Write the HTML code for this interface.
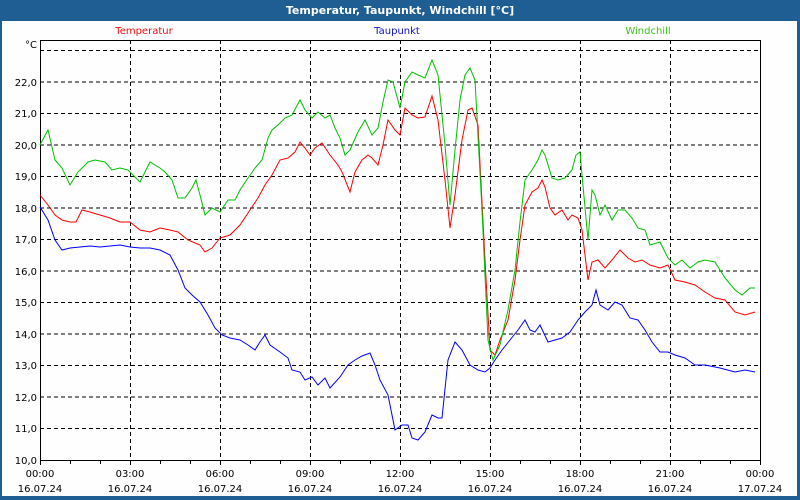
<!DOCTYPE html>
<html><head><meta charset="utf-8"><style>
html,body{margin:0;padding:0;background:#fff}
svg{display:block;font-family:"DejaVu Sans","Liberation Sans",sans-serif}
</style></head><body>
<svg width="800" height="500" viewBox="0 0 800 500" xmlns="http://www.w3.org/2000/svg">
<rect x="0" y="0" width="800" height="500" fill="#1e5e92"/>
<rect x="2" y="21" width="795" height="475" fill="#fdfefd"/>
<text x="400" y="14" fill="#fff" font-size="11" font-weight="bold" text-anchor="middle">Temperatur, Taupunkt, Windchill [°C]</text>
<text x="144" y="34" fill="#f01010" font-size="10" text-anchor="middle">Temperatur</text>
<text x="397" y="34" fill="#1010d0" font-size="10" text-anchor="middle">Taupunkt</text>
<text x="648" y="34" fill="#40c020" font-size="10" text-anchor="middle">Windchill</text>
<g stroke="#000" stroke-width="1" stroke-dasharray="4,3" fill="none">
<path d="M40 50.5H760M40 82H760M40 113.5H760M40 145H760M40 176.5H760M40 208H760M40 239.5H760M40 271H760M40 302.5H760M40 334H760M40 365.5H760M40 397H760M40 428.5H760"/>
<path d="M130.5 40V460M220.5 40V460M310.5 40V460M400.5 40V460M490.5 40V460M580.5 40V460M670.5 40V460"/>
</g>
<rect x="40.5" y="40.5" width="720" height="420" fill="none" stroke="#000"/>
<g stroke="#000"><path d="M40.5 460v5M70.5 460v4M100.5 460v4M130.5 460v5M160.5 460v4M190.5 460v4M220.5 460v5M250.5 460v4M280.5 460v4M310.5 460v5M340.5 460v4M370.5 460v4M400.5 460v5M430.5 460v4M460.5 460v4M490.5 460v5M520.5 460v4M550.5 460v4M580.5 460v5M610.5 460v4M640.5 460v4M670.5 460v5M700.5 460v4M730.5 460v4M760.5 460v5"/></g>
<g font-size="10" fill="#000" text-anchor="end">
<text x="37" y="48">°C</text>
<text x="37" y="86">22,0</text><text x="37" y="117">21,0</text><text x="37" y="149">20,0</text><text x="37" y="180">19,0</text><text x="37" y="212">18,0</text><text x="37" y="243">17,0</text><text x="37" y="275">16,0</text><text x="37" y="306">15,0</text><text x="37" y="338">14,0</text><text x="37" y="369">13,0</text><text x="37" y="401">12,0</text><text x="37" y="432">11,0</text><text x="37" y="464">10,0</text>
</g>
<g font-size="10" fill="#000" text-anchor="middle">
<text x="40" y="477">00:00</text><text x="130" y="477">03:00</text><text x="220" y="477">06:00</text><text x="310" y="477">09:00</text><text x="400" y="477">12:00</text><text x="490" y="477">15:00</text><text x="580" y="477">18:00</text><text x="670" y="477">21:00</text><text x="760" y="477">00:00</text>
<text x="40" y="492">16.07.24</text><text x="130" y="492">16.07.24</text><text x="220" y="492">16.07.24</text><text x="310" y="492">16.07.24</text><text x="400" y="492">16.07.24</text><text x="490" y="492">16.07.24</text><text x="580" y="492">16.07.24</text><text x="670" y="492">16.07.24</text><text x="760" y="492">17.07.24</text>
</g>
<g fill="none" stroke-width="1">
<polyline stroke="#0000ff" points="40,207 48,220 55,240 62,250 70,248 80,247 90,246 100,247 110,246 120,245 130,247 140,248 150,248 160,250 170,255 178,270 185,288 192,295 200,302 208,315 215,328 222,335 230,338 240,340 248,345 255,350 260,342 265,335 270,345 280,352 288,358 292,370 300,372 305,380 312,377 318,385 325,378 330,388 340,377 348,365 355,360 362,356 370,353 375,365 380,380 388,395 395,430 402,425 408,425 412,438 418,440 425,432 432,415 438,418 442,418 448,360 455,342 462,350 470,365 478,370 485,372 490,368 495,360 502,350 510,340 518,330 525,320 530,330 535,332 540,325 548,342 555,340 562,338 570,332 578,320 585,312 592,305 596,290 600,305 608,310 615,302 622,305 630,318 638,320 645,330 652,342 660,352 668,352 675,355 685,358 695,365 705,365 720,368 735,372 745,370 755,372"/>
<polyline stroke="#ff0000" points="40,195 48,205 55,215 62,220 70,222 76,222 82,210 90,212 100,215 110,218 120,222 130,222 140,230 150,232 160,228 170,230 178,232 188,240 200,245 205,252 212,248 220,238 230,235 240,225 250,210 258,198 265,185 272,175 280,160 288,158 295,152 300,142 305,148 310,155 315,148 322,143 330,155 338,165 342,172 350,192 355,172 362,160 368,155 372,158 378,165 383,145 388,120 395,130 400,135 405,108 412,115 418,118 425,117 432,96 438,120 445,180 450,228 455,195 462,140 468,110 472,108 478,125 485,260 490,350 495,355 500,340 508,320 515,280 520,240 525,205 532,192 538,188 542,180 545,187 550,208 555,215 562,210 568,220 572,215 578,218 582,230 588,280 592,262 598,260 605,268 612,260 620,250 628,258 635,262 642,260 650,265 660,268 668,265 675,280 685,282 695,285 705,292 715,298 725,300 735,312 745,315 755,312"/>
<polyline stroke="#00c000" points="40,145 48,130 55,160 62,168 70,185 78,172 88,162 95,160 105,162 112,170 120,168 128,170 140,182 150,162 160,168 165,172 172,180 178,198 185,198 192,188 196,180 200,195 205,215 212,208 220,212 228,200 235,200 240,190 248,178 255,168 262,160 268,138 272,130 278,125 285,118 292,115 300,100 305,110 312,118 318,112 325,118 330,115 335,128 340,138 345,155 350,150 358,132 365,120 372,135 378,128 383,102 388,80 393,82 400,108 405,82 412,72 418,75 425,78 432,60 438,75 445,145 450,205 455,150 460,100 465,75 470,68 475,80 482,210 488,340 493,360 500,345 508,310 515,270 520,222 525,180 532,170 538,160 542,150 545,155 552,178 558,180 565,178 572,170 576,155 580,152 582,175 588,240 592,190 595,195 600,215 605,205 612,220 618,210 625,210 632,218 638,228 645,230 650,245 660,242 668,258 675,265 682,260 690,268 698,262 705,260 715,262 725,278 735,290 742,295 750,288 755,288"/>
</g>
</svg>
</body></html>
